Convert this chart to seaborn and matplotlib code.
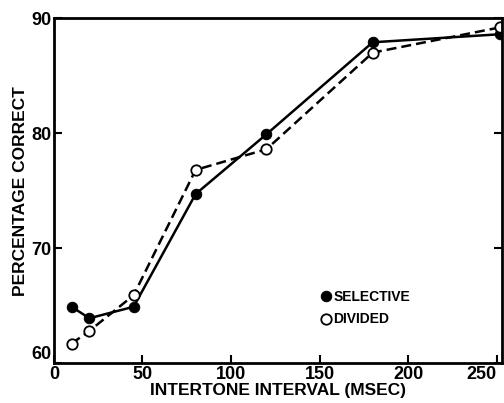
import numpy as np
import pandas as pd
import matplotlib
matplotlib.use("Agg")
import matplotlib.pyplot as plt
import seaborn as sns

# intertone interval (msec) and percentage correct
interval = [10, 20, 45, 80, 120, 180, 252]
selective = [64.9, 63.9, 64.9, 74.7, 79.9, 87.9, 88.6]
divided = [61.7, 62.8, 65.9, 76.8, 78.6, 87.0, 89.2]

df = pd.DataFrame({'interval': interval * 2,
                   'pct': selective + divided,
                   'cond': ['SELECTIVE'] * len(interval) + ['DIVIDED'] * len(interval)})

sns.set_style("white")
plt.rcParams['font.family'] = ['Liberation Sans', 'DejaVu Sans']
plt.rcParams['font.weight'] = 'bold'
plt.rcParams['text.color'] = 'black'
plt.rcParams['axes.labelcolor'] = 'black'
plt.rcParams['xtick.color'] = 'black'
plt.rcParams['ytick.color'] = 'black'

fig = plt.figure(figsize=(5.04, 4.03), dpi=100)
ax = fig.add_axes([0.107, 0.099, 0.889, 0.856])

sel = df[df.cond == 'SELECTIVE']
div = df[df.cond == 'DIVIDED']
sns.lineplot(data=sel, x='interval', y='pct', ax=ax, color='black', lw=1.8,
             marker='o', markersize=7.5, markerfacecolor='black', markeredgecolor='black',
             label='SELECTIVE')
sns.lineplot(data=div, x='interval', y='pct', ax=ax, color='black', lw=1.8,
             linestyle=(0, (4, 2)), marker='o', markersize=7.5, markerfacecolor='white',
             markeredgecolor='black', markeredgewidth=1.3, label='DIVIDED')

ax.set_xlim(0, 253)
ax.set_ylim(60, 90)
ax.set_xticks([0, 50, 100, 150, 200, 250])
ax.set_yticks([60, 70, 80, 90])
ax.tick_params(direction='in', length=6, width=1.5, labelsize=13, pad=2,
               top=False, right=True, left=True, bottom=True)
ax.get_xticklabels()[-1].set_horizontalalignment('right')
ax.get_yticklabels()[0].set_verticalalignment('bottom')
for s in ax.spines.values():
    s.set_linewidth(2)
    s.set_color('black')
ax.set_xlabel('INTERTONE INTERVAL (MSEC)', fontsize=12.5, fontweight='bold', labelpad=0)
ax.set_ylabel('PERCENTAGE CORRECT', fontsize=12.5, fontweight='bold', labelpad=2)

leg = ax.legend(loc='lower left', bbox_to_anchor=(0.58, 0.07), frameon=False,
                handlelength=0, handletextpad=0.5, labelspacing=0.6,
                prop={'weight': 'bold', 'size': 10})
for h in leg.legend_handles:
    h.set_linestyle('None')

fig.savefig('out.png', dpi=100)
